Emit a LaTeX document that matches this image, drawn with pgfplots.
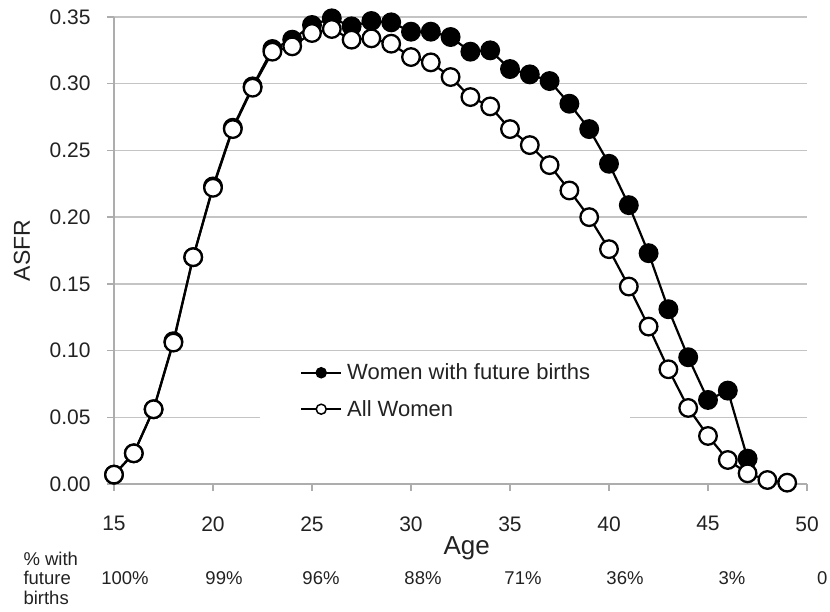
\documentclass[border=0pt]{standalone}
\usepackage{pgfplots}
\pgfplotsset{compat=1.18}
\usepackage{fontspec}
\setmainfont{Liberation Sans}
\definecolor{gridc}{HTML}{C4C4C4}
\definecolor{axisc}{HTML}{ADADAD}
\definecolor{txt}{HTML}{222222}
\pgfplotstableread{
age asfr
15 0.007
16 0.023
17 0.056
18 0.107
19 0.170
20 0.223
21 0.267
22 0.298
23 0.326
24 0.333
25 0.344
26 0.349
27 0.343
28 0.347
29 0.346
30 0.339
31 0.339
32 0.335
33 0.324
34 0.325
35 0.311
36 0.307
37 0.302
38 0.285
39 0.266
40 0.240
41 0.209
42 0.173
43 0.131
44 0.095
45 0.063
46 0.070
47 0.019
}\future
\pgfplotstableread{
age asfr
15 0.007
16 0.023
17 0.056
18 0.106
19 0.170
20 0.222
21 0.266
22 0.297
23 0.324
24 0.328
25 0.338
26 0.341
27 0.333
28 0.334
29 0.330
30 0.320
31 0.316
32 0.305
33 0.290
34 0.283
35 0.266
36 0.254
37 0.239
38 0.220
39 0.200
40 0.176
41 0.148
42 0.118
43 0.086
44 0.057
45 0.036
46 0.018
47 0.008
48 0.003
49 0.001
}\allwomen
\begin{document}
\begin{tikzpicture}
\path[use as bounding box] (0,0) rectangle (830bp,-612bp);
\begin{axis}[
  at={(114bp,-484bp)}, anchor=south west,
  scale only axis, width=693bp, height=467bp,
  xmin=15, xmax=50, ymin=0, ymax=0.35,
  xtick={15,20,25,30,35,40,45,50},
  ytick={0,0.05,0.1,0.15,0.2,0.25,0.3,0.35},
  axis x line*=bottom, axis y line*=left,
  axis line style={axisc, line width=1.3bp},
  tick style={axisc, line width=1.3bp},
  tick align=outside, major tick length=7bp,
  ymajorgrids, major grid style={gridc, line width=1.5bp},
  /pgf/number format/assume math mode=true,
  yticklabel style={/pgf/number format/fixed, /pgf/number format/fixed zerofill, /pgf/number format/precision=2, xshift=-13bp},
  ticklabel style={font=\fontsize{21bp}{25bp}\selectfont, text=txt},
  xticklabel style={yshift=-22bp},
  xlabel={Age}, ylabel={ASFR},
  xlabel style={at={(axis description cs:0.509,-0.137)}, anchor=center, font=\fontsize{26bp}{30bp}\selectfont, text=txt},
  ylabel style={at={(axis description cs:-0.133,0.5)}, anchor=center, font=\fontsize{23bp}{27bp}\selectfont, text=txt},
  clip=false,
  legend style={at={(0.2107,0.283)}, anchor=north west, fill=white, draw=none,
    inner xsep=40bp, inner ysep=12bp, font=\fontsize{22bp}{26bp}\selectfont,
    row sep=19bp, column sep=5bp, nodes={inner sep=0pt, text=txt}, cells={anchor=west}},
]
\addplot[black, line width=2.2bp, mark=*, mark size=8.8bp, mark options={fill=black, draw=black, line width=2.3bp},
  legend image code/.code={\draw[black, line width=2bp] (0bp,0bp) -- (40bp,0bp); \draw[black, fill=black, line width=1.5bp] (20bp,0bp) circle (5bp);}]
  table[x=age, y=asfr] {\future};
\addlegendentry{Women with future births}
\addplot[black, line width=2.2bp, mark=*, mark size=8.8bp, mark options={fill=white, draw=black, line width=2.3bp},
  legend image code/.code={\draw[black, line width=2bp] (0bp,0bp) -- (40bp,0bp); \draw[black, fill=white, line width=1.5bp] (20bp,0bp) circle (5bp);}]
  table[x=age, y=asfr] {\allwomen};
\addlegendentry{All Women}
\end{axis}
\begin{scope}[every node/.style={font=\fontsize{18.5bp}{19.5bp}\selectfont, text=txt}]
\node[anchor=west, align=left] at (20bp,-578bp) {\% with\\future\\births};
\node at (125bp,-578bp) {100\%};
\node at (224bp,-578bp) {99\%};
\node at (321bp,-578bp) {96\%};
\node at (423bp,-578bp) {88\%};
\node at (523bp,-578bp) {71\%};
\node at (625bp,-578bp) {36\%};
\node at (732bp,-578bp) {3\%};
\node[anchor=west, inner sep=0pt] at (817bp,-578bp) {0};
\end{scope}
\end{tikzpicture}
\end{document}
